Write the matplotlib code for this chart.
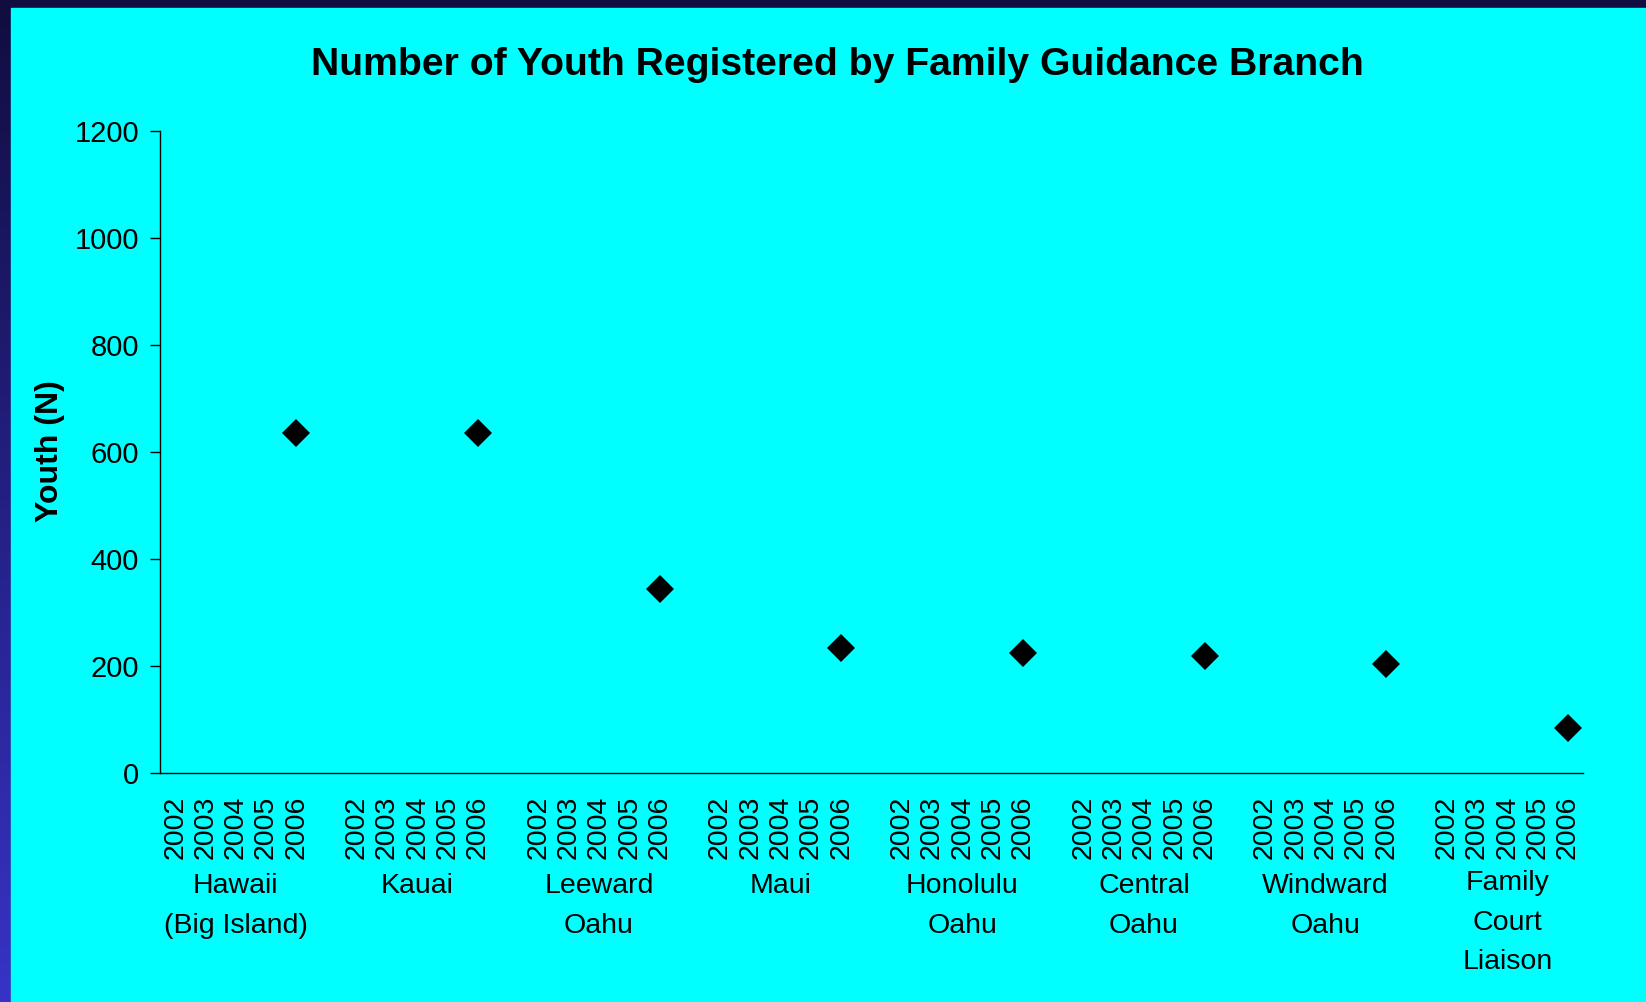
import numpy as np
import matplotlib
matplotlib.use("Agg")
import matplotlib.pyplot as plt
from matplotlib.patches import Rectangle
from matplotlib.colors import LinearSegmentedColormap

plt.rcParams['font.family'] = ['Liberation Sans', 'DejaVu Sans']

# data
branches = ["Hawaii\n(Big Island)", "Kauai", "Leeward\nOahu", "Maui",
            "Honolulu\nOahu", "Central\nOahu", "Windward\nOahu",
            "Family\nCourt\nLiaison"]
years = ["2002", "2003", "2004", "2005", "2006"]
youth_2006 = [635, 635, 345, 235, 224, 219, 204, 85]
yticks = [0, 200, 400, 600, 800, 1000, 1200]

W, H = 1646, 1002
fig = plt.figure(figsize=(W / 100, H / 100), dpi=100)

# dark blue slide frame with a gradient, cyan panel on top
bg = fig.add_axes([0, 0, 1, 1], zorder=-10)
bg.axis('off')
cmap = LinearSegmentedColormap.from_list('frame', ['#110d40', '#3733c6'])
bg.imshow(np.linspace(0, 1, 256).reshape(-1, 1), aspect='auto', cmap=cmap,
          extent=[0, 1, 0, 1])
bg.add_patch(Rectangle((11 / W, 0), 1 - 11 / W, 1 - 8 / H, color='#00ffff',
                       transform=bg.transAxes, zorder=2))
bg.set_xlim(0, 1)
bg.set_ylim(0, 1)

ax = fig.add_axes([160 / W, 1 - 773.3 / H, (1583 - 160) / W, (773.3 - 131) / H])
ax.set_facecolor('none')

# 6 slots per branch (5 years + a gap), last gap dropped
slot = 6
positions = []
labels = []
for g in range(len(branches)):
    for k, yr in enumerate(years):
        positions.append(g * slot + k)
        labels.append(yr)

x2006 = [g * slot + years.index("2006") for g in range(len(branches))]
ax.plot(x2006, youth_2006, linestyle='none', marker='D', ms=14.5,
        color='black', mec='black', mew=0, clip_on=False)

ax.set_xlim(-0.5, len(branches) * slot - 1.5)
ax.set_ylim(0, 1200)
ax.set_yticks(yticks)
ax.set_xticks(positions)
ax.set_xticklabels(labels, rotation=90, fontsize=20.5)
ax.tick_params(axis='x', length=0, pad=16)
ax.tick_params(axis='y', length=7, width=1, direction='out', labelsize=21, pad=8)

for s in ['top', 'right']:
    ax.spines[s].set_visible(False)
for s in ['left', 'bottom']:
    ax.spines[s].set_linewidth(1.0)
    ax.spines[s].set_color('black')

for g, name in enumerate(branches):
    cx = g * slot + 2
    ytop = -0.151 if name.count("\n") == 2 else -0.156
    ax.text(cx, ytop, name, transform=ax.get_xaxis_transform(),
            ha='center', va='top', fontsize=20.5, linespacing=1.68)

fig.text(50 / W, 1 - 451 / H, "Youth (N)", rotation=90, ha='center', va='center',
         fontsize=23, fontweight='bold')

fig.text(837 / W, 1 - 65 / H, "Number of Youth Registered by Family Guidance Branch",
         ha='center', va='center', fontsize=28.2, fontweight='bold')

fig.savefig("out.png", dpi=100)
